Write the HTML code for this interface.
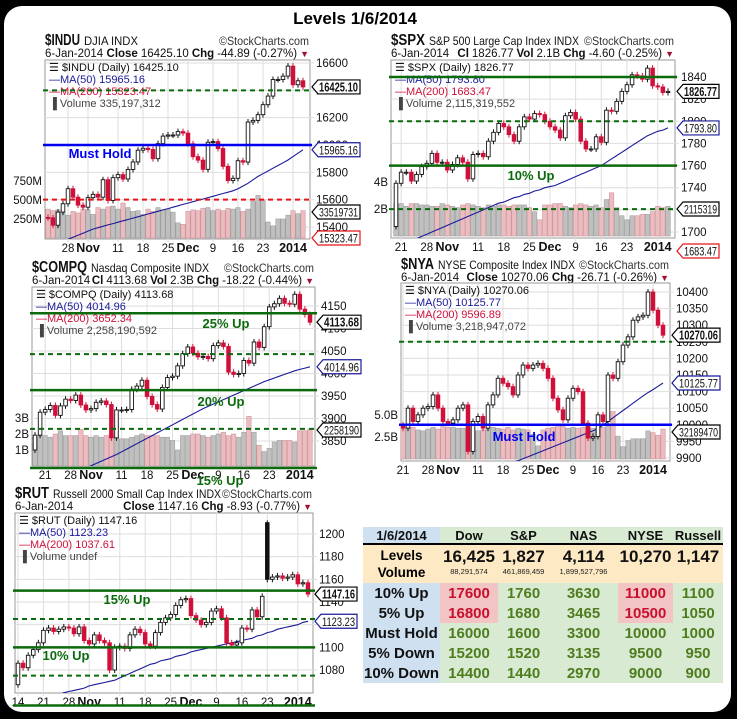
<!DOCTYPE html>
<html><head><meta charset="utf-8"><title>Levels 1/6/2014</title>
<style>
html,body{margin:0;padding:0;background:#000;width:737px;height:719px;overflow:hidden;font-family:"Liberation Sans",sans-serif}
#frame{position:absolute;left:4px;top:6px;width:727px;height:706px;background:#fff;border-radius:18px}
#svg{position:absolute;left:0;top:0}
#tbl{position:absolute;left:363px;top:527px;border-collapse:collapse;table-layout:fixed;width:360px;font-family:"Liberation Sans",sans-serif}
#tbl td{padding:0;text-align:center;font-weight:bold;overflow:hidden;white-space:nowrap}
.lab{background:#cfe0f1;color:#111;font-size:12.5px}
.hd td{height:16px;font-size:13px;border-bottom:2px solid #000}
.hg{background:#d9ead3;color:#111}
.lv td{background:#fde9c4;height:36px;vertical-align:top}
.big{font-size:17px;color:#111;line-height:20px;padding-top:2px}
.sm{font-size:7.5px;color:#222;font-weight:normal;line-height:10px}
.dr td{height:20px;font-size:15px}
.g{background:#d9ead3;color:#4e7d1e}
.r{background:#f2c4c4;color:#c8102e}
</style></head>
<body>
<div id="frame"></div>
<svg id="svg" width="737" height="719" xmlns="http://www.w3.org/2000/svg">
<text x="355" y="24" text-anchor="middle" font-family="Liberation Sans, sans-serif" font-weight="bold" font-size="17">Levels 1/6/2014</text>
</svg>
<table id="tbl">
<colgroup><col style="width:77px"><col style="width:58px"><col style="width:51px"><col style="width:69px"><col style="width:55px"><col style="width:50px"></colgroup>
<tr class="hd"><td class="lab">1/6/2014</td><td class="hg">Dow</td><td class="hg">S&amp;P</td><td class="hg">NAS</td><td class="hg">NYSE</td><td class="hg">Russell</td></tr>
<tr class="lv"><td style="font-size:13.5px;line-height:17px;padding-top:2px">Levels<br>Volume</td>
<td><div class="big">16,425</div><div class="sm">88,291,574</div></td>
<td><div class="big">1,827</div><div class="sm">461,869,459</div></td>
<td><div class="big">4,114</div><div class="sm">1,899,527,796</div></td>
<td><div class="big">10,270</div></td>
<td><div class="big">1,147</div></td></tr>
<tr class="dr"><td class="lab">10% Up</td><td class="r">17600</td><td class="g">1760</td><td class="g">3630</td><td class="r">11000</td><td class="g">1100</td></tr>
<tr class="dr"><td class="lab">5% Up</td><td class="r">16800</td><td class="g">1680</td><td class="g">3465</td><td class="r">10500</td><td class="g">1050</td></tr>
<tr class="dr"><td class="lab">Must Hold</td><td class="g">16000</td><td class="g">1600</td><td class="g">3300</td><td class="g">10000</td><td class="g">1000</td></tr>
<tr class="dr"><td class="lab">5% Down</td><td class="g">15200</td><td class="g">1520</td><td class="g">3135</td><td class="g">9500</td><td class="g">950</td></tr>
<tr class="dr"><td class="lab">10% Down</td><td class="g">14400</td><td class="g">1440</td><td class="g">2970</td><td class="g">9000</td><td class="g">900</td></tr>
</table>
<script>
// shared date axis
const dateLabels = ['14','21','28','Nov','11','18','25','Dec','9','16','23','2014'];
const dateGlobalIdx = [0,5,10,14,20,25,30,34,39,44,49,55];

// INDU
const induCloses = [15467,15413,15509,15570,15680,15618,15560,15545,15615,15639,15618,15746,15594,15761,15783,15751,15821,15876,15962,15976,15967,15900,16010,16065,16073,16073,16098,16087,16009,15915,15889,15822,16020,16025,15974,15844,15740,15756,15885,15875,16168,16180,16222,16295,16358,16479,16479,16504,16577,16441,16470,16425];
const induVols = [380,360,370,330,300,350,330,380,370,310,400,380,410,420,380,460,400,350,360,310,380,350,400,370,380,340,200,180,350,370,360,390,400,360,380,360,390,380,400,350,380,480,560,500,210,160,250,250,300,360,320,360];
const induMA = [15230,15250,15270,15290,15310,15325,15340,15355,15370,15385,15395,15405,15415,15425,15435,15445,15455,15465,15475,15485,15495,15505,15515,15525,15535,15545,15555,15565,15575,15585,15595,15605,15615,15625,15635,15645,15655,15665,15680,15700,15720,15745,15770,15790,15810,15830,15850,15870,15890,15915,15940,15965];
const induTicks = [15400,15600,15800,16000,16200,16400,16600];
const induVolTicks = [250,500,750];
const induVolTickLabels = ['250M','500M','750M'];

// SPX
const spxCloses = [1744,1754,1754,1746,1752,1759,1762,1771,1763,1763,1756,1761,1767,1763,1748,1770,1771,1768,1782,1790,1798,1795,1788,1782,1795,1804,1802,1807,1806,1800,1795,1792,1785,1805,1808,1802,1782,1775,1775,1786,1781,1810,1809,1818,1827,1833,1842,1841,1838,1848,1832,1831,1826,1827];
const spxVols = [2.4,2.4,2.2,2.4,2.4,2.3,2.3,2.2,2.2,2.4,2.3,2.2,2.1,2.3,2.4,2.3,2.2,2.1,2.3,2.2,2.3,2.3,2.2,2.3,2.3,2.3,2.1,1.8,1.2,2.3,2.3,2.4,2.4,2.2,2.1,2.3,2.4,2.3,2.2,2.3,2.1,2.7,3.2,2.1,1.5,1.2,1.5,1.5,1.6,1.6,1.8,2.2,2.1,2.2];
const spxMA = [1686,1688,1690,1692,1694,1696,1698,1700,1702,1704,1706,1708,1710,1712,1714,1716,1718,1720,1722,1724,1726,1727,1729,1731,1732,1734,1735,1737,1738,1740,1741,1742,1744,1746,1748,1750,1752,1754,1756,1758,1760,1763,1766,1769,1772,1775,1778,1781,1784,1787,1789,1791,1792,1794];
const spxTicks = [1700,1720,1740,1760,1780,1800,1820,1840];
const spxVolTicks = [2,4];
const spxVolTickLabels = ['2B','4B'];

// COMPQ
const compCloses = [3863,3914,3920,3929,3907,3928,3943,3940,3952,3930,3919,3922,3936,3939,3931,3857,3919,3919,3920,3965,3972,3985,3949,3931,3921,3969,3991,3994,4017,4044,4059,4045,4037,4038,4033,4062,4068,4060,4003,3998,4000,4029,4023,4070,4058,4104,4148,4155,4167,4156,4154,4176,4143,4131,4114];
const compVols = [1.8,1.9,1.9,1.8,2.0,2.2,1.9,1.9,1.9,2.3,1.9,1.8,1.9,1.8,1.9,2.0,1.8,1.7,1.7,1.8,1.9,2.0,1.9,1.9,1.9,1.8,1.8,1.6,1.0,1.9,1.9,2.0,2.0,1.9,1.8,1.9,2.0,2.1,1.9,2.0,1.8,2.1,3.1,2.1,1.3,0.9,1.1,1.5,1.6,1.6,1.6,1.5,2.2,2.2,2.3];
const compMA = [3740,3745,3750,3755,3760,3765,3770,3775,3780,3785,3790,3795,3800,3805,3810,3815,3820,3826,3832,3838,3844,3850,3856,3862,3868,3874,3880,3886,3892,3898,3904,3910,3916,3922,3927,3932,3937,3942,3947,3952,3957,3962,3967,3972,3977,3982,3986,3990,3994,3998,4002,4006,4009,4012,4015];
const compTicks = [3850,3900,3950,4000,4050,4100,4150];
const compVolTicks = [1,2,3];
const compVolTickLabels = ['1B','2B','3B'];

// NYA
const nyaCloses = [9990,10050,10010,10030,10050,10055,10090,10050,10010,10005,10015,10050,10060,9920,10010,10025,9990,10060,10090,10140,10125,10115,10090,10150,10180,10170,10180,10185,10170,10140,10080,10045,10015,10080,10110,10100,10005,9960,9965,10030,10010,10150,10140,10190,10240,10265,10315,10325,10330,10400,10345,10300,10270];
const nyaVols = [3.5,3.8,3.6,3.3,3.2,3.4,3.6,3.4,3.9,3.6,3.6,3.5,3.5,3.7,3.5,3.2,3.3,3.4,3.6,3.5,3.4,3.6,3.3,3.5,3.4,3.3,2.8,1.5,3.3,3.5,3.6,3.9,3.7,3.5,3.6,3.5,3.6,3.8,3.5,3.5,3.6,3.8,5.4,2.6,1.4,2.1,2.3,2.3,2.3,3.2,3.0,2.7,3.4];
const nyaMA = [9800,9804,9808,9812,9816,9820,9824,9828,9832,9836,9840,9844,9848,9852,9856,9860,9864,9868,9872,9876,9880,9884,9888,9892,9898,9904,9910,9916,9922,9928,9934,9940,9946,9952,9958,9964,9970,9976,9982,9988,9999,10010,10021,10032,10043,10054,10065,10076,10087,10097,10106,10116,10126];
const nyaTicks = [9900,9950,10000,10050,10100,10150,10200,10250,10300,10350,10400];
const nyaVolTicks = [2.5,5.0];
const nyaVolTickLabels = ['2.5B','5.0B'];

// RUT
const rutCloses = [1086,1082,1093,1098,1104,1115,1117,1114,1116,1118,1117,1112,1118,1106,1103,1111,1106,1104,1080,1100,1101,1099,1111,1116,1113,1103,1101,1113,1122,1126,1129,1137,1142,1143,1128,1124,1120,1122,1132,1134,1126,1104,1102,1104,1117,1116,1133,1127,1145,1160,1162,1163,1161,1162,1164,1156,1157,1147];
const rutOpens = {49:1210};
const rutHighs = {49:1212};
const rutMA = [1050,1051,1052,1053,1054,1055,1056,1057,1058,1060,1061,1062,1063,1064,1066,1067,1068,1069,1070,1071,1073,1075,1077,1079,1081,1083,1085,1086,1088,1089,1090,1092,1093,1094,1096,1097,1098,1099,1100,1101,1102,1103,1104,1105,1106,1107,1108,1110,1111,1113,1114,1116,1117,1118,1119,1120,1122,1123];
const rutTicks = [1080,1100,1120,1140,1160,1180,1200];

const NS = 'http://www.w3.org/2000/svg';
const svg = document.getElementById('svg');
function mk(parent, tag, attrs, txt){
  const e = document.createElementNS(NS, tag);
  for (const k in attrs) e.setAttribute(k, attrs[k]);
  if (txt !== undefined) e.textContent = txt;
  parent.appendChild(e);
  return e;
}
const FONT = 'Liberation Sans, sans-serif';
const GREEN = '#0b6a0b', BLUE = '#0000f0', RED = '#e4141b', NAVY = '#1a1a9a', CRED = '#d0103a';

function draw(c){
  const g = mk(svg, 'g', {});
  
  
  const P = c.plot;
  const yS = p => c.yA + (p - c.pA) * (c.yB - c.yA) / (c.pB - c.pA);
  const N = c.closes.length;
  const step = (c.xLast - c.xFirst) / (N - 1);
  const xS = i => c.xFirst + i * step;
  const vS = v => c.volZero - v * c.volPx;
  // header
  const h1 = mk(g, 'text', {x:P.l, y:c.hy, 'font-family':FONT, 'font-size':16, 'font-weight':'bold', fill:'#111', textLength:c.descX - 4 - P.l, lengthAdjust:'spacingAndGlyphs'}, c.sym);
  
  
  const hd = mk(g, 'text', {x:c.descX, y:c.hy, 'font-family':FONT, 'font-size':12, fill:'#111', textLength:c.descW, lengthAdjust:'spacingAndGlyphs'}, c.desc);
  
  
  const wm = mk(g, 'text', {x:P.r - 91, y:c.hy, 'font-family':FONT, 'font-size':12, fill:'#333', textLength:90, lengthAdjust:'spacingAndGlyphs'}, '\u00a9StockCharts.com');
  
  
  const h2 = mk(g, 'text', {x:P.l, y:c.hy + 12, 'font-family':FONT, 'font-size':11.5, fill:'#111'}, '6-Jan-2014');
  
  
  const h3 = mk(g, 'text', {x:P.r - 1, y:c.hy + 12, 'font-family':FONT, 'font-size':11.5, fill:'#111', 'text-anchor':'end'});
  
  
  c.stats.forEach((s, k) => { mk(h3, 'tspan', {'font-weight': k % 2 === 0 ? 'bold' : 'normal', dx: k ? 3 : 0}, s); });
  mk(h3, 'tspan', {fill:'#a01030', dx:3, 'font-size':9}, '\u25bc');
  // plot box
  const box = mk(g, 'rect', {x:P.l, y:P.t, width:P.r - P.l, height:P.b - P.t, fill:'#fff', stroke:'#999', 'stroke-width':1});
  
  
  const cid = 'clip-' + c.name;
  const cp = mk(g, 'clipPath', {id:cid});
  mk(cp, 'rect', {x:P.l, y:P.t, width:P.r - P.l, height:P.b - P.t});
  // grid
  c.ticks.forEach(t => {
    const y = yS(t);
    if (y < P.t - 1 || y > P.b + 1) return;
    const gl = mk(g, 'line', {x1:P.l, x2:P.r + 4, y1:y, y2:y, stroke:'#dedede'});
    
    
    const tl = mk(g, 'text', {x:P.r + 6, y:y + 4, 'font-family':FONT, 'font-size':11.5, fill:'#111'}, String(t));
    
    
  });
  dateLabels.forEach((lab, k) => {
    const i = dateGlobalIdx[k] - c.start;
    if (i < 0 || i >= N) return;
    const x = xS(i);
    const vl = mk(g, 'line', {x1:x, x2:x, y1:P.t, y2:P.b + 3, stroke:'#dedede'});
    
    
    const bold = (lab === 'Nov' || lab === 'Dec' || lab === '2014');
    const dl = mk(g, 'text', {x:x, y:P.b + 13, 'text-anchor':'middle', 'font-family':FONT, 'font-size': bold ? 12.5 : 11.5, 'font-weight': bold ? 'bold' : 'normal', fill:'#111'}, lab);
    
    
  });
  const marks = mk(g, 'g', {'clip-path':'url(#' + cid + ')'});
  // volume
  if (c.vols) {
    c.volTicks.forEach((v, k) => {
      const vt = mk(g, 'text', {x:P.l - 3, y:vS(v) + 4, 'text-anchor':'end', 'font-family':FONT, 'font-size':11.5, fill:'#111'}, c.volTickLabels[k]);
      
      
    });
    c.vols.forEach((v, i) => {
      const prev = i ? c.closes[i - 1] : c.firstOpen;
      const down = c.closes[i] < prev;
      const vb = mk(marks, 'rect', {x:xS(i) - step / 2 + 0.3, y:vS(v), width:step - 0.6, height:c.volZero - vS(v), fill: down ? '#ebbcc0' : '#c0c0c0', stroke: down ? '#cf979d' : '#a0a0a0', 'stroke-width':0.6});
      
      
    });
  }
  // legend
  const leg = [[c.sym + ' (Daily) ' + c.last, '#111'], ['MA(50) ' + c.ma50, NAVY], ['MA(200) ' + c.ma200, CRED]];
  if (c.volText) leg.push(['Volume ' + c.volText, '#444']);
  leg.forEach((L, k) => {
    const lt = mk(g, 'text', {x:P.l + 4, y:P.t + 11 + k * 12, 'font-family':FONT, 'font-size':11, fill:L[1]}, (k === 0 ? '\u2630 ' : k === 3 ? '\u2590 ' : '\u2014') + L[0]);
    
    
  });
  // horizontal level lines
  c.hlines.forEach(h => {
    const y = yS(h.p);
    const hl = mk(g, 'line', {x1:P.l - 2, x2:P.r + 2, y1:y, y2:y, stroke:h.color, 'stroke-width': h.dash ? 2 : 2.5, 'stroke-dasharray': h.dash ? '5,4' : 'none'});
    
    
  });
  // MA line
  const pts = c.ma.map((m, i) => xS(i).toFixed(1) + ',' + yS(m).toFixed(1)).join(' ');
  const ml = mk(marks, 'polyline', {points:pts, fill:'none', stroke:NAVY, 'stroke-width':1.1});
  
  
  // candles
  c.closes.forEach((cl, i) => {
    const prev = i ? c.closes[i - 1] : c.firstOpen;
    const o = (c.opens && c.opens[i] !== undefined) ? c.opens[i] : prev;
    const x = xS(i);
    const yo = yS(o), yc = yS(cl);
    const top = Math.min(yo, yc), bot = Math.max(yo, yc);
    let hiY = top - 3;
    if (c.highs && c.highs[i] !== undefined) hiY = yS(c.highs[i]);
    const down = cl < prev, fillBlack = !down && cl < o;
    const col = down ? CRED : '#111';
    const w = mk(marks, 'line', {x1:x, x2:x, y1:hiY, y2:bot + 3, stroke:col, 'stroke-width':1});
    
    
    const b = mk(marks, 'rect', {x:x - 1.8, y:top, width:3.6, height:Math.max(1, bot - top), fill: down ? CRED : (fillBlack ? '#111' : '#fff'), stroke:col, 'stroke-width':0.9});
    
    
  });
  // annotation texts
  c.notes.forEach(n => {
    const nt = mk(g, 'text', {x:n.x, y:n.y, 'text-anchor':'middle', 'font-family':FONT, 'font-size':13, 'font-weight':'bold', fill:n.color}, n.t);
    
    
  });
  // value boxes
  const boxes = [{y:yS(c.closes[N - 1]), t:c.last, col:'#000', b:true}, {y:yS(c.ma[N - 1]), t:c.ma50, col:'#1a1a9a', b:false}].concat(c.extraBoxes || []);
  boxes.forEach(bx => {
    const x0 = P.r + 2, wd = c.boxW, y = bx.y;
    const pg = mk(g, 'polygon', {points:`${x0},${y} ${x0 + 6},${y - 7} ${x0 + wd},${y - 7} ${x0 + wd},${y + 7} ${x0 + 6},${y + 7}`, fill:'#fff', stroke:bx.col, 'stroke-width':1.2});
    
    
    const bt = mk(g, 'text', {x:x0 + 7, y:y + 4.5, 'font-family':FONT, 'font-size': bx.b ? 12.5 : 11.5, 'font-weight': bx.b ? 'bold' : 'normal', fill:'#111', textLength: wd - 9, lengthAdjust:'spacingAndGlyphs'}, bx.t);
    
    
  });
}

draw({name:'indu', sym:'$INDU', desc:'DJIA  INDX', descX:84, descW:54, hy:45, stats:['Close','16425.10','Chg','-44.89 (-0.27%)'],
  plot:{l:45,t:60,r:310,b:239}, pA:16600, yA:63, pB:15400, yB:227, start:6, xFirst:48, xLast:303,
  closes:induCloses, firstOpen:15470, vols:induVols, volZero:238, volPx:0.076, volTicks:induVolTicks, volTickLabels:induVolTickLabels,
  ma:induMA, ticks:induTicks, last:'16425.10', ma50:'15965.16', ma200:'15323.47', volText:'335,197,312', boxW:48,
  hlines:[{p:16400,color:GREEN,dash:true},{p:16000,color:BLUE},{p:15600,color:RED,dash:true}],
  notes:[{t:'Must Hold',x:100,y:158,color:BLUE}],
  extraBoxes:[{y:212,t:'33519731',col:'#000'},{y:238,t:'15323.47',col:RED}]});

draw({name:'spx', sym:'$SPX', desc:'S&P 500 Large Cap Index  INDX', descX:429, descW:150, hy:45, stats:['Cl','1826.77','Vol','2.1B','Chg','-4.60 (-0.25%)'],
  plot:{l:391,t:60,r:675,b:238}, pA:1840, yA:77, pB:1700, yB:232, start:4, xFirst:396, xLast:668,
  closes:spxCloses, firstOpen:1705, vols:spxVols, volZero:236, volPx:13.5, volTicks:spxVolTicks, volTickLabels:spxVolTickLabels,
  ma:spxMA, ticks:spxTicks, last:'1826.77', ma50:'1793.80', ma200:'1683.47', volText:'2,115,319,552', boxW:42,
  hlines:[{p:1840,color:GREEN},{p:1800,color:GREEN,dash:true},{p:1760,color:GREEN},{p:1720.7,color:GREEN,dash:true}],
  notes:[{t:'10% Up',x:531,y:180,color:GREEN}],
  extraBoxes:[{y:209,t:'2115319',col:'#000'},{y:251,t:'1683.47',col:RED}]});

draw({name:'compq', sym:'$COMPQ', desc:'Nasdaq Composite  INDX', descX:91, descW:118, hy:272, stats:['Cl','4113.68','Vol','2.3B','Chg','-18.22 (-0.44%)'],
  plot:{l:32,t:287,r:315,b:466}, pA:4150, yA:306, pB:3850, yB:441, start:3, xFirst:35, xLast:310,
  closes:compCloses, firstOpen:3830, vols:compVols, volZero:466, volPx:16, volTicks:compVolTicks, volTickLabels:compVolTickLabels,
  ma:compMA, ticks:compTicks, last:'4113.68', ma50:'4014.96', ma200:'3652.34', volText:'2,258,190,592', boxW:44,
  hlines:[{p:4134,color:GREEN},{p:4043,color:GREEN,dash:true},{p:3963,color:GREEN},{p:3877,color:GREEN,dash:true},{p:3790,color:GREEN}],
  notes:[{t:'25% Up',x:226,y:328,color:GREEN},{t:'20% Up',x:221,y:406,color:GREEN},{t:'15% Up',x:220,y:485,color:GREEN}],
  extraBoxes:[{y:430,t:'2258190',col:'#000'}]});

draw({name:'nya', sym:'$NYA', desc:'NYSE Composite Index  INDX', descX:438, descW:137, hy:269, stats:['Close','10270.06','Chg','-26.71 (-0.26%)'],
  plot:{l:401,t:283,r:670,b:461}, pA:10400, yA:292, pB:9900, yB:458, start:5, xFirst:403, xLast:663,
  closes:nyaCloses, firstOpen:10000, vols:nyaVols, volZero:459, volPx:8.8, volTicks:nyaVolTicks, volTickLabels:nyaVolTickLabels,
  ma:nyaMA, ticks:nyaTicks, last:'10270.06', ma50:'10125.77', ma200:'9596.89', volText:'3,218,947,072', boxW:48,
  hlines:[{p:10250,color:GREEN,dash:true},{p:10000,color:BLUE}],
  notes:[{t:'Must Hold',x:524,y:441,color:BLUE}],
  extraBoxes:[{y:432,t:'32189470',col:'#000'}]});

draw({name:'rut', sym:'$RUT', desc:'Russell 2000 Small Cap Index  INDX', descX:53, descW:168, hy:498, stats:['Close','1147.16','Chg','-8.93 (-0.77%)'],
  plot:{l:15,t:513,r:313,b:693}, pA:1200, yA:534, pB:1080, yB:670, start:0, xFirst:18, xLast:308,
  closes:rutCloses, opens:rutOpens, highs:rutHighs, firstOpen:1067, vols:null,
  ma:rutMA, ticks:rutTicks, last:'1147.16', ma50:'1123.23', ma200:'1037.61', volText:'undef', boxW:42,
  hlines:[{p:1150,color:GREEN},{p:1125,color:GREEN,dash:true},{p:1100,color:GREEN},{p:1075,color:GREEN,dash:true},{p:1048.7,color:GREEN}],
  notes:[{t:'15% Up',x:127,y:604,color:GREEN},{t:'10% Up',x:66,y:660,color:GREEN}],
  extraBoxes:[]});
</script>
</body></html>
